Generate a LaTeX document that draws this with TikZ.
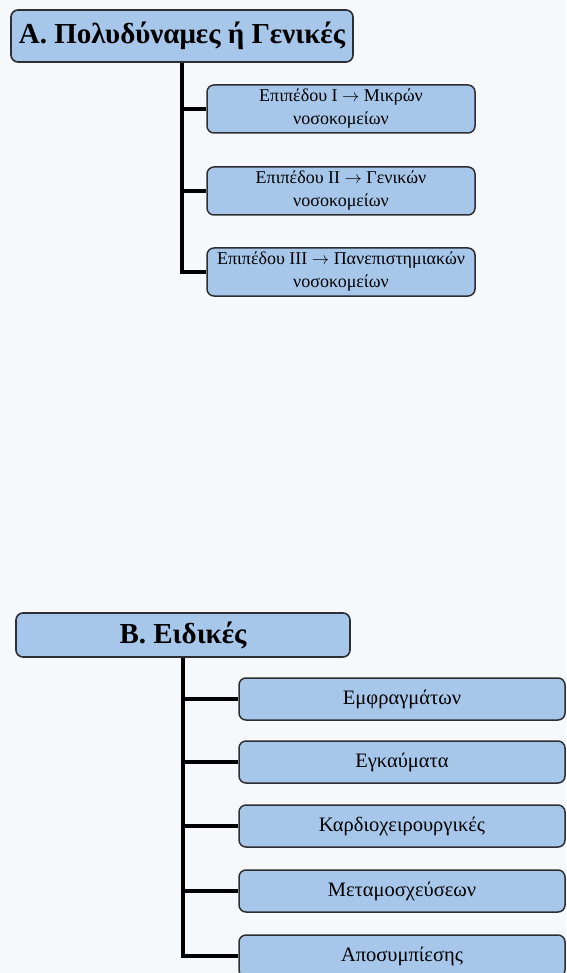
\documentclass[tikz,border=0pt]{standalone}
\usepackage{fontspec}
\setmainfont{Liberation Serif}
\usepackage{tikz}
\usetikzlibrary{positioning}
\definecolor{boxblue}{RGB}{167,199,234}
\definecolor{boxline}{RGB}{45,45,50}
\definecolor{paper}{RGB}{246,249,252}
\def\dtrunk{\draw[line width=4pt,black]}
\def\arr{~$\rightarrow$~}

\begin{document}
\begin{tikzpicture}[x=1pt,y=-1pt,
    cat/.style={draw=boxline,line width=1.6pt,fill=boxblue,rounded corners=7pt,
                inner sep=0pt,font=\bfseries\fontsize{29}{31}\selectfont},
    subA/.style={draw=boxline,line width=1.5pt,fill=boxblue,rounded corners=7pt,
                minimum width=268pt,minimum height=48pt,inner sep=0pt,align=center,
                font=\fontsize{18}{23}\selectfont},
    subB/.style={draw=boxline,line width=1.5pt,fill=boxblue,rounded corners=7pt,
                minimum width=326pt,minimum height=42pt,inner sep=0pt,
                font=\fontsize{20.5}{23}\selectfont}]
  \fill[paper] (0,0) rectangle (566,973);
  \useasboundingbox (0,0) rectangle (566,973);
  % A. general hospitals
  \node[cat,minimum width=342pt,minimum height=52pt] (A) at (182,36) {Α. Πολυδύναμες ή Γενικές};
  \node[subA] (a1) at (341,109) {Επιπέδου Ι\arr Μικρών\\νοσοκομείων};
  \node[subA] (a2) at (341,191) {Επιπέδου ΙΙ\arr Γενικών\\νοσοκομείων};
  \node[subA] (a3) at (341,272) {Επιπέδου ΙΙΙ\arr Πανεπιστημιακών\\νοσοκομείων};
  \dtrunk (A.south) |- (a3.west);
  \foreach \n in {a1,a2} \dtrunk (A.south |- \n.west) -- (\n.west);
  % B. special hospitals
  \node[cat,minimum width=334pt,minimum height=44pt] (B) at (183,635) {Β. Ειδικές};
  \node[subB] (b1) at (402,699) {Εμφραγμάτων};
  \node[subB] (b2) at (402,762) {Εγκαύματα};
  \node[subB] (b3) at (402,826) {Καρδιοχειρουργικές};
  \node[subB] (b4) at (402,891) {Μεταμοσχεύσεων};
  \node[subB] (b5) at (402,956) {Αποσυμπίεσης};
  \dtrunk (B.south) |- (b5.west);
  \foreach \n in {b1,b2,b3,b4} \dtrunk (B.south |- \n.west) -- (\n.west);
\end{tikzpicture}
\end{document}
